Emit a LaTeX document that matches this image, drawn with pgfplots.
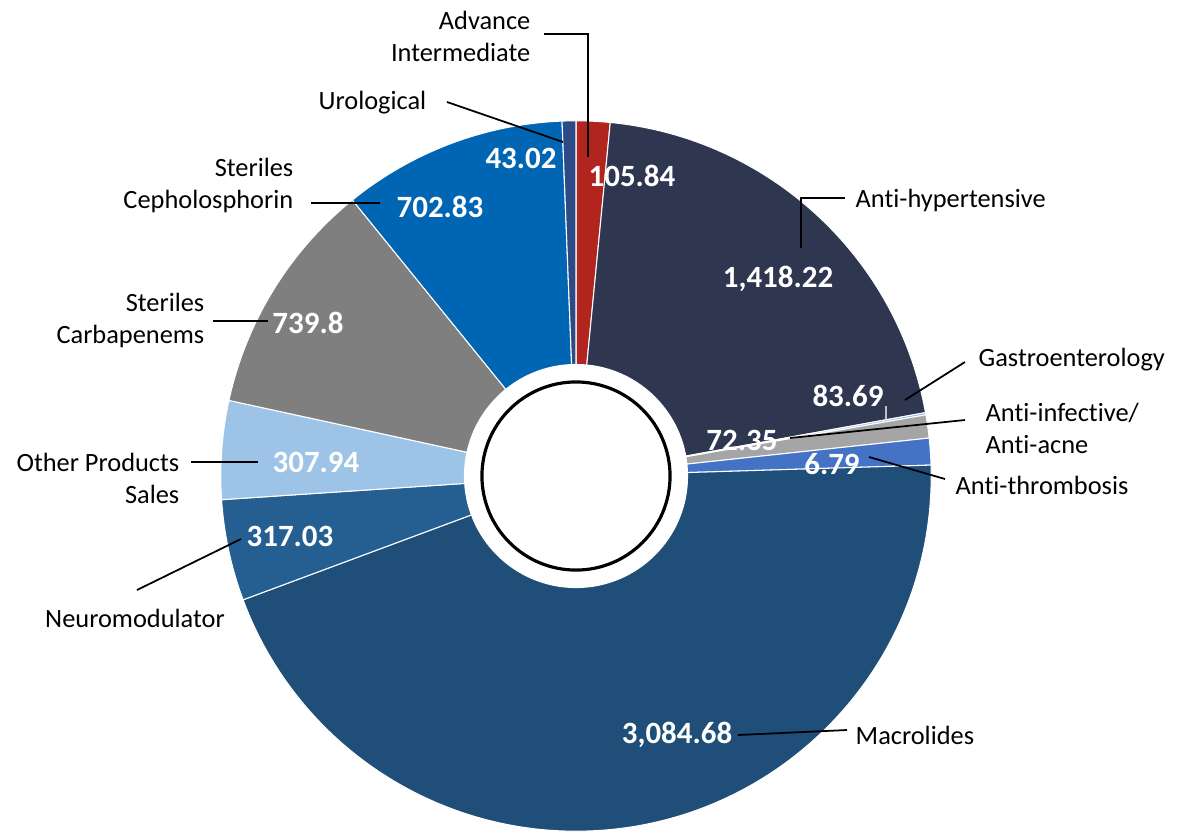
\documentclass[border=0pt]{standalone}
\usepackage{pgfplots}
\pgfplotsset{compat=1.18}
\usepackage{fontspec}
\setmainfont{Carlito}[Ligatures=NoCommon]
\definecolor{cRed}{HTML}{B2241E}
\definecolor{cNavy}{HTML}{2E3650}
\definecolor{cGastro}{HTML}{8DB4E2}
\definecolor{cGrayS}{HTML}{A5A5A5}
\definecolor{cThromb}{HTML}{4472C4}
\definecolor{cMacro}{HTML}{1F4E79}
\definecolor{cNeuro}{HTML}{255E91}
\definecolor{cOther}{HTML}{9DC3E6}
\definecolor{cCarba}{HTML}{7F7F7F}
\definecolor{cCeph}{HTML}{0066B3}
\definecolor{cUro}{HTML}{2B4A86}
\def\total{6882.19}
\gdef\cum{0}
\newcommand\slice[2]{%
  \pgfmathsetmacro\sa{90-(\cum/\total)*360}%
  \pgfmathsetmacro\cumnew{\cum+#1}%
  \pgfmathsetmacro\ea{90-(\cumnew/\total)*360}%
  \global\let\cum\cumnew
  \edef\tmp{\noexpand\fill[#2,draw=white,line width=0.3pt] (axis cs:576,360) -- ++(\sa:3.55cm) arc[start angle=\sa, end angle=\ea, radius=3.55cm] -- cycle;}%
  \tmp}
\newcommand\lab{\fontsize{7.5}{9.1}\selectfont}
\newcommand\num{\fontsize{8.8}{10}\selectfont\bfseries}
\begin{document}
\begin{tikzpicture}
\begin{axis}[hide axis, scale only axis, x=0.01cm, y=0.01cm,
  xmin=0, xmax=1179, ymin=0, ymax=836, clip=false]
\path (axis cs:0,0) rectangle (axis cs:1179,836);
% slices, clockwise from 12 o'clock
\slice{105.84}{cRed}
\slice{1418.22}{cNavy}
\slice{6.79}{cGastro}
\slice{72.35}{cGrayS}
\slice{83.69}{cThromb}
\slice{3084.68}{cMacro}
\slice{317.03}{cNeuro}
\slice{307.94}{cOther}
\slice{739.8}{cCarba}
\slice{702.83}{cCeph}
\slice{43.02}{cUro}
\fill[white] (axis cs:576,360) circle[radius=1.12cm];
\draw[black, line width=0.9pt] (axis cs:576,360) circle[radius=0.94cm];
% leader lines
\begin{scope}[black, line width=0.5pt]
\draw (axis cs:544,802) -- (axis cs:588,802) -- (axis cs:588,679);
\draw (axis cs:447,734) -- (axis cs:563,694);
\draw (axis cs:311,633) -- (axis cs:380,633);
\draw (axis cs:213,515) -- (axis cs:268,515);
\draw (axis cs:191,374) -- (axis cs:258,374);
\draw (axis cs:137,246) -- (axis cs:241,297);
\draw (axis cs:738,101) -- (axis cs:847,106);
\draw (axis cs:801,588) -- (axis cs:801,638) -- (axis cs:845,638);
\draw (axis cs:905,436) -- (axis cs:965,474);
\draw (axis cs:790,398) -- (axis cs:965,416);
\draw (axis cs:869,379) -- (axis cs:945,357);
\end{scope}
\draw[gray!50, line width=0.5pt] (axis cs:886,430) -- (axis cs:886,417);
% category labels
\node[anchor=east, align=right, font=\lab, inner sep=0pt] at (axis cs:531,800) {Advance\\Intermediate};
\node[anchor=east, font=\lab, inner sep=0pt] at (axis cs:427,733) {Urological};
\node[anchor=east, align=right, font=\lab, inner sep=0pt] at (axis cs:294,651) {Steriles\\Cepholosphorin};
\node[anchor=east, align=right, font=\lab, inner sep=0pt] at (axis cs:205,516) {Steriles\\Carbapenems};
\node[anchor=east, align=right, font=\lab, inner sep=0pt] at (axis cs:180,358) {Other Products\\Sales};
\node[anchor=center, font=\lab, inner sep=0pt] at (axis cs:135,218) {Neuromodulator};
\node[anchor=west, font=\lab, inner sep=0pt] at (axis cs:855,101) {Macrolides};
\node[anchor=west, font=\lab, inner sep=0pt] at (axis cs:855,636) {Anti-hypertensive};
\node[anchor=west, font=\lab, inner sep=0pt] at (axis cs:978,476) {Gastroenterology};
\node[anchor=west, align=left, font=\lab, inner sep=0pt] at (axis cs:985,408) {Anti-infective/\\Anti-acne};
\node[anchor=west, font=\lab, inner sep=0pt] at (axis cs:955,351) {Anti-thrombosis};
% value labels
\begin{scope}[every node/.style={white, font=\num, inner sep=0pt, anchor=center}]
\node at (axis cs:632,660) {105.84};
\node at (axis cs:521,678) {43.02};
\node at (axis cs:440,629) {702.83};
\node at (axis cs:308,513) {739.8};
\node at (axis cs:316,374) {307.94};
\node at (axis cs:290,300) {317.03};
\node at (axis cs:677,101) {3,084.68};
\node at (axis cs:778,557) {1,418.22};
\node at (axis cs:848,440) {83.69};
\node at (axis cs:742,396) {72.35};
\node at (axis cs:832,372) {6.79};
\end{scope}
\end{axis}
\end{tikzpicture}
\end{document}
